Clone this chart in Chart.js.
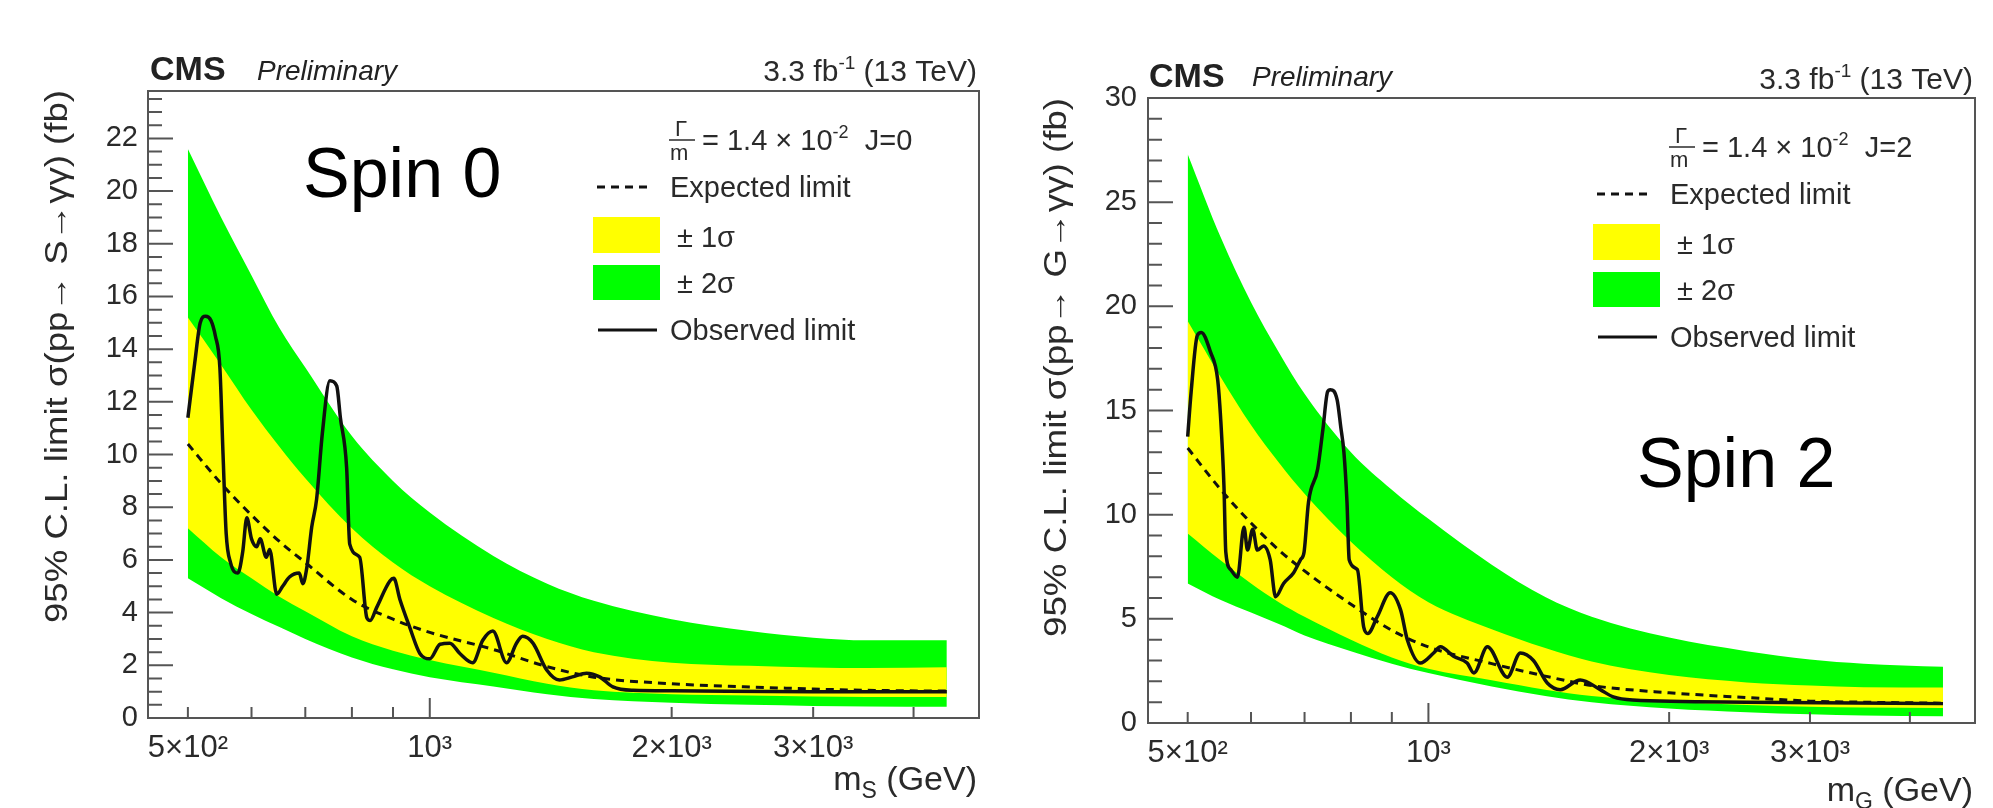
<!DOCTYPE html>
<html>
<head>
<meta charset="utf-8">
<script src="https://cdn.jsdelivr.net/npm/chart.js@4.4.1/dist/chart.umd.min.js"></script>
<style>
  html, body { margin: 0; padding: 0; background: #fff; }
  #wrap { position: relative; width: 1993px; height: 808px; overflow: hidden; }
  .panel { position: absolute; top: 0; height: 808px; }
</style>
</head>
<body>
<div id="wrap">
  <div class="panel" style="left:0;width:996px"><canvas id="spin0"></canvas></div>
  <div class="panel" style="left:996px;width:997px"><canvas id="spin2"></canvas></div>
</div>
<script>
const FONT = '"Liberation Sans", Arial, Helvetica, sans-serif';
const TEXT = "#2a2a2a";
const FRAME = "#555";
const GREEN = "#00ff00";
const YELLOW = "#ffff00";

const BAND_MASS = [500, 550, 600, 650, 700, 800, 900, 1000, 1200, 1400, 1600, 2000, 2500, 3000, 3500, 4400];

// Spin 0 (fb)
const S0_EXP = [10.4, 8.9, 7.7, 6.7, 5.9, 4.5, 3.75, 3.25, 2.6, 1.95, 1.55, 1.3, 1.18, 1.1, 1.05, 1.02];
const S0_P2 = [21.6, 19.0, 16.8, 14.8, 13.3, 10.7, 9.0, 7.8, 6.15, 5.1, 4.45, 3.75, 3.3, 3.05, 2.95, 2.95];
const S0_P1 = [15.2, 13.4, 11.7, 10.3, 9.1, 7.2, 5.9, 5.0, 3.8, 3.0, 2.5, 2.1, 1.98, 1.92, 1.9, 1.93];
const S0_M1 = [7.2, 6.1, 5.3, 4.6, 4.05, 3.1, 2.55, 2.2, 1.72, 1.3, 1.05, 0.9, 0.85, 0.82, 0.8, 0.8];
const S0_M2 = [5.3, 4.55, 3.95, 3.45, 3.0, 2.3, 1.85, 1.55, 1.2, 0.9, 0.72, 0.58, 0.5, 0.46, 0.44, 0.43];

const S0_OBS_MASS = [500, 510, 518, 526, 534, 541, 548, 553, 558, 565, 577, 585, 592, 600, 609, 615, 626, 632, 645, 656,
  669, 688, 695, 703, 713, 723, 735, 751, 766, 774, 788, 795, 818, 835, 843, 859, 892, 902, 918, 944,
  972, 1000, 1030, 1059, 1090, 1131, 1164, 1198, 1246, 1282, 1305, 1344, 1398, 1450, 1505, 1567, 1627, 1690, 1790, 2000,
  3000, 4400];
const S0_OBS = [11.4, 13.5, 15.0, 15.25, 15.1, 14.5, 13.3, 10.0, 7.0, 5.9, 5.5, 6.3, 7.6, 6.8, 6.5, 6.8, 6.1, 6.4, 4.7, 5.0,
  5.35, 5.5, 5.1, 5.7, 7.25, 8.3, 10.8, 12.8, 12.6, 11.4, 9.5, 6.6, 6.1, 3.8, 3.7, 4.2, 5.2, 5.3, 4.5, 3.45,
  2.45, 2.25, 2.8, 2.84, 2.45, 2.1, 2.95, 3.3, 2.1, 2.84, 3.1, 2.84, 1.82, 1.44, 1.56, 1.7, 1.56, 1.18, 1.05, 1.03,
  1.0, 1.0];

// Spin 2 (fb)
const S2_EXP = [13.2, 11.2, 9.6, 8.3, 7.3, 5.7, 4.45, 3.65, 2.85, 2.25, 1.8, 1.45, 1.22, 1.05, 1.0, 0.95];
const S2_P2 = [27.3, 23.3, 20.2, 17.8, 15.8, 13.0, 11.2, 9.8, 7.6, 6.05, 5.1, 4.1, 3.45, 3.05, 2.85, 2.7];
const S2_P1 = [19.3, 16.6, 14.3, 12.5, 11.0, 8.7, 7.0, 5.8, 4.5, 3.6, 2.95, 2.3, 1.95, 1.8, 1.72, 1.7];
const S2_M1 = [9.1, 7.8, 6.7, 5.8, 5.1, 4.0, 3.15, 2.6, 2.05, 1.6, 1.3, 1.02, 0.87, 0.78, 0.74, 0.72];
const S2_M2 = [6.7, 5.9, 5.3, 4.75, 4.2, 3.45, 2.85, 2.4, 1.75, 1.3, 1.0, 0.7, 0.52, 0.42, 0.36, 0.32];

const S2_OBS_MASS = [500, 505, 514, 520, 534, 545, 550, 555, 558, 566, 577, 588, 594, 603, 611, 622, 634, 644, 659, 678,
  692, 699, 708, 727, 738, 748, 754, 769, 777, 784, 791, 796, 815, 830, 840, 863, 896, 923, 941, 977,
  1015, 1035, 1075, 1118, 1140, 1185, 1255, 1303, 1353, 1408, 1462, 1548, 1640, 1703, 1800, 2500, 4400];
const S2_OBS = [13.75, 15.9, 18.6, 18.75, 17.8, 16.5, 14.5, 11.4, 8.2, 7.36, 7.0, 9.4, 8.3, 9.3, 8.3, 8.5, 7.84, 6.06, 6.7, 7.2,
  7.84, 8.2, 10.6, 12.2, 14.1, 15.9, 16.0, 15.5, 14.2, 13.0, 10.6, 7.84, 7.36, 4.6, 4.3, 5.1, 6.25, 5.43, 4.0, 2.88,
  3.36, 3.66, 3.2, 2.88, 2.4, 3.66, 2.2, 3.36, 3.0, 1.92, 1.6, 2.07, 1.6, 1.25, 1.1, 1.0, 0.93];

// axes
const X_MIN = 446;
const X_MAX = 4825;
const X_TICKS = [500, 600, 700, 800, 900, 1000, 2000, 3000, 4000];
const X_TICK_LABELS = ["5×10²", "", "", "", "", "10³", "2×10³", "3×10³", ""];
const X_MAJOR = [1000];
const Y0_TICKS = [0, 2, 4, 6, 8, 10, 12, 14, 16, 18, 20, 22];
const Y2_TICKS = [0, 5, 10, 15, 20, 25, 30];

const PANELS = {
  spin0: {
    width: 996,
    area: { left: 148, right: 979, top: 91, bottom: 718 },
    yMax: 23.8, yTicks: Y0_TICKS, yMinor: 0.5, yPad: 10,
    yTitle: "95% C.L. limit σ(pp→ S→γγ) (fb)", yTitleX: 58, yTitleTop: 90, yTitleBottom: 623,
    xSub: "S", xTitleRight: 977, xTitleBase: 790,
    cms: [150, 80], prelim: [257, 80], lumi: [977, 81],
    spin: ["Spin 0", 303, 197],
    legend: [593, 150], jText: "J=0",
    exp: S0_EXP, p2: S0_P2, p1: S0_P1, m1: S0_M1, m2: S0_M2,
    obsMass: S0_OBS_MASS, obs: S0_OBS,
  },
  spin2: {
    width: 997,
    area: { left: 152, right: 979, top: 98, bottom: 723 },
    yMax: 30, yTicks: Y2_TICKS, yMinor: 1, yPad: 11,
    yTitle: "95% C.L. limit σ(pp→ G→γγ) (fb)", yTitleX: 61, yTitleTop: 98, yTitleBottom: 637,
    xSub: "G", xTitleRight: 977, xTitleBase: 801,
    cms: [153, 87], prelim: [256, 86], lumi: [977, 89],
    spin: ["Spin 2", 641, 487],
    legend: [597, 157], jText: "J=2",
    exp: S2_EXP, p2: S2_P2, p1: S2_P1, m1: S2_M1, m2: S2_M2,
    obsMass: S2_OBS_MASS, obs: S2_OBS,
  },
};

function font(size, style) {
  return (style ? style + " " : "") + size + "px " + FONT;
}

// draws a run of [text, size, style, dy] pieces, left or right aligned
function drawRun(ctx, parts, x, y, align) {
  let total = 0;
  parts.forEach((p) => {
    ctx.font = font(p[1], p[2]);
    total += ctx.measureText(p[0]).width;
  });
  let cx = align === "right" ? x - total : x;
  ctx.textAlign = "left";
  ctx.textBaseline = "alphabetic";
  parts.forEach((p) => {
    ctx.font = font(p[1], p[2]);
    ctx.fillText(p[0], cx, y + (p[3] || 0));
    cx += ctx.measureText(p[0]).width;
  });
}

const rootStyle = {
  id: "rootStyle",
  afterDatasetsDraw(chart) {
    const P = chart.options.plugins.rootStyle;
    const { ctx, chartArea: a } = chart;
    const xs = chart.scales.x;
    const ys = chart.scales.y;
    ctx.save();

    // frame and inward ticks
    ctx.strokeStyle = FRAME;
    ctx.lineWidth = 2;
    ctx.strokeRect(a.left, a.top, a.right - a.left, a.bottom - a.top);
    ctx.beginPath();
    const n = Math.floor(P.yMax / P.yMinor + 1e-6);
    for (let i = 0; i <= n; i++) {
      const v = i * P.yMinor;
      const py = ys.getPixelForValue(v);
      const len = P.yTicks.includes(v) ? 25 : 14;
      ctx.moveTo(a.left, py);
      ctx.lineTo(a.left + len, py);
    }
    X_TICKS.forEach((v) => {
      const px = xs.getPixelForValue(v);
      const len = X_MAJOR.includes(v) ? 20 : 11;
      ctx.moveTo(px, a.bottom);
      ctx.lineTo(px, a.bottom - len);
    });
    ctx.stroke();

    ctx.fillStyle = TEXT;

    // y title, stretched along its length like the original
    ctx.save();
    ctx.font = font(31);
    const w = ctx.measureText(P.yTitle).width;
    ctx.translate(P.yTitleX, P.yTitleTop);
    ctx.rotate(-Math.PI / 2);
    ctx.scale((P.yTitleBottom - P.yTitleTop) / w, 1);
    ctx.textAlign = "right";
    ctx.textBaseline = "middle";
    ctx.fillText(P.yTitle, 0, 0);
    ctx.restore();

    // x title
    drawRun(ctx, [["m", 34], [P.xSub, 23, "", 8], [" (GeV)", 34]], P.xTitleRight, P.xTitleBase, "right");

    // CMS Preliminary and lumi
    ctx.fillStyle = "#222";
    drawRun(ctx, [["CMS", 34, "bold"]], P.cms[0], P.cms[1], "left");
    drawRun(ctx, [["Preliminary", 28, "italic"]], P.prelim[0], P.prelim[1], "left");
    ctx.fillStyle = TEXT;
    drawRun(ctx, [["3.3 fb", 30], ["-1", 19, "", -12], [" (13 TeV)", 30]], P.lumi[0], P.lumi[1], "right");

    // legend
    const [lx, ly] = P.legend;
    drawRun(ctx, [["Γ", 22]], lx + 82, ly - 14, "left");
    drawRun(ctx, [["m", 22]], lx + 77, ly + 10, "left");
    ctx.lineWidth = 1.5;
    ctx.strokeStyle = TEXT;
    ctx.beginPath();
    ctx.moveTo(lx + 76, ly - 10);
    ctx.lineTo(lx + 102, ly - 10);
    ctx.stroke();
    drawRun(ctx, [["= 1.4 × 10", 29], ["-2", 18, "", -12], ["  " + P.jText, 29]], lx + 109, ly, "left");

    ctx.strokeStyle = "#111";
    ctx.lineWidth = 3;
    ctx.setLineDash([8, 6]);
    ctx.beginPath();
    ctx.moveTo(lx + 4, ly + 37);
    ctx.lineTo(lx + 57, ly + 37);
    ctx.stroke();
    ctx.setLineDash([]);
    drawRun(ctx, [["Expected limit", 29]], lx + 77, ly + 47, "left");

    ctx.fillStyle = YELLOW;
    ctx.fillRect(lx, ly + 67, 67, 36);
    ctx.fillStyle = GREEN;
    ctx.fillRect(lx, ly + 115, 67, 35);
    ctx.fillStyle = TEXT;
    drawRun(ctx, [["± 1σ", 29]], lx + 84, ly + 97, "left");
    drawRun(ctx, [["± 2σ", 29]], lx + 84, ly + 143, "left");

    ctx.beginPath();
    ctx.moveTo(lx + 5, ly + 180);
    ctx.lineTo(lx + 64, ly + 180);
    ctx.stroke();
    drawRun(ctx, [["Observed limit", 29]], lx + 77, ly + 190, "left");

    // spin label
    ctx.fillStyle = "#000";
    drawRun(ctx, [[P.spin[0], 70]], P.spin[1], P.spin[2], "left");

    ctx.restore();
  },
};

function band(values, extra) {
  return Object.assign({
    data: BAND_MASS.map((m, i) => ({ x: m, y: values[i] })),
    borderWidth: 0,
    pointRadius: 0,
    cubicInterpolationMode: "monotone",
    fill: false,
  }, extra);
}

function makeChart(id) {
  const P = PANELS[id];
  const a = P.area;
  return new Chart(document.getElementById(id), {
    type: "line",
    data: {
      datasets: [
        band(P.p2, { fill: "+1", backgroundColor: GREEN, order: 4 }),
        band(P.m2, { order: 4 }),
        band(P.p1, { fill: "+1", backgroundColor: YELLOW, order: 3 }),
        band(P.m1, { order: 3 }),
        band(P.exp, { borderWidth: 3, borderColor: "#111", borderDash: [8, 6], order: 2 }),
        {
          data: P.obsMass.map((m, i) => ({ x: m, y: P.obs[i] })),
          borderColor: "#111",
          borderWidth: 3.5,
          pointRadius: 0,
          cubicInterpolationMode: "monotone",
          fill: false,
          order: 1,
        },
      ],
    },
    options: {
      responsive: true,
      maintainAspectRatio: false,
      animation: false,
      devicePixelRatio: 1,
      layout: { padding: { top: a.top, right: P.width - a.right, left: 0, bottom: 0 } },
      plugins: {
        legend: { display: false },
        tooltip: { enabled: false },
        rootStyle: P,
      },
      scales: {
        x: {
          type: "logarithmic",
          min: X_MIN,
          max: X_MAX,
          grid: { display: false, drawTicks: false },
          border: { display: false },
          afterBuildTicks: (scale) => {
            scale.ticks = X_TICKS.map((v) => ({ value: v }));
          },
          afterFit: (scale) => {
            scale.height = 808 - a.bottom;
          },
          ticks: {
            autoSkip: false,
            maxRotation: 0,
            minRotation: 0,
            padding: 12,
            color: TEXT,
            font: { family: FONT, size: 31 },
            callback: (value) => X_TICK_LABELS[X_TICKS.indexOf(value)] || "",
          },
        },
        y: {
          type: "linear",
          min: 0,
          max: P.yMax,
          grid: { display: false, drawTicks: false },
          border: { display: false },
          afterBuildTicks: (scale) => {
            scale.ticks = P.yTicks.map((v) => ({ value: v }));
          },
          afterFit: (scale) => {
            scale.width = a.left;
          },
          ticks: {
            padding: P.yPad,
            color: TEXT,
            font: { family: FONT, size: 29 },
          },
        },
      },
    },
    plugins: [rootStyle],
  });
}

makeChart("spin0");
makeChart("spin2");
</script>
</body>
</html>
